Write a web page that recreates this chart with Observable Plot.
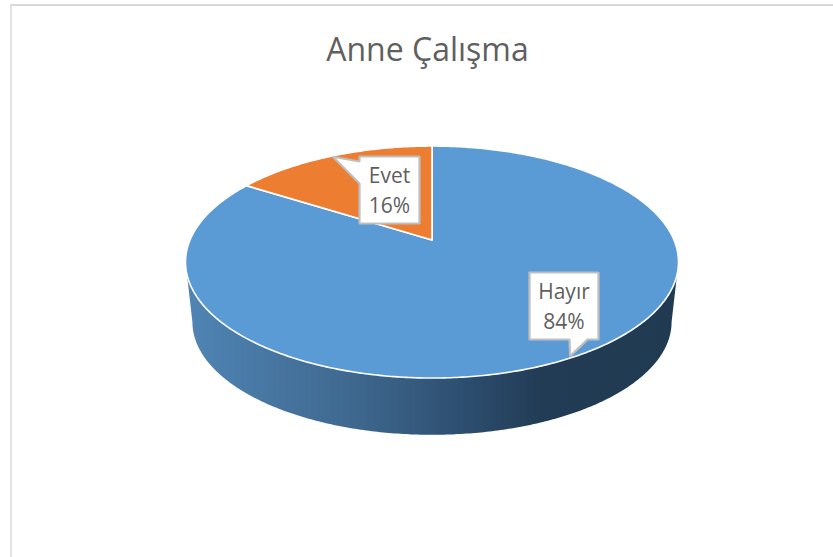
<!DOCTYPE html>
<html>
<head>
<meta charset="utf-8">
<script src="https://cdn.jsdelivr.net/npm/d3@7"></script>
<script src="https://cdn.jsdelivr.net/npm/@observablehq/plot@0.6"></script>
<style>
  html, body { margin: 0; padding: 0; background: #fff; }
  #chart { position: relative; width: 833px; height: 557px; overflow: hidden; }
  #rule { position: absolute; left: 10px; top: 4px; right: 0; bottom: 0;
          border-top: 2px solid #d9d9d9; border-left: 2px solid #e3e3e3; }
  #title { position: absolute; left: 0; width: 855px; top: 27px; text-align: center;
           font: 32px "Open Sans", sans-serif; color: #5f5f5f; }
  #chart svg { position: absolute; left: 0; top: 0; }
</style>
</head>
<body>
<div id="chart">
  <div id="rule"></div>
  <div id="title">Anne Çalışma</div>
</div>
<script>
// Data
const categories = ["Hayır", "Evet"];
const shares = [84, 16];
const sliceColors = ["#5b9bd5", "#ed7d31"];
const titleText = "Anne Çalışma";

// Layout of the tilted disc
const W = 833, H = 557;
const cx = 431.5, cy = 239.5, kx = 242, ky = 111.8, tilt = 0.19;
const wallShrink = 0.972, wallDrop = 60, ellipseCy = 262;
const tipRadius = 0.99;
const labelBoxes = [
  {x0: 529, x1: 598, y0: 272, y1: 339, base: "bottom", b0: 569, b1: 587},
  {x0: 359, x1: 419, y0: 156, y1: 223, base: "left", b0: 161, b1: 183}
];

// Perspective projection of a point on the unit disc (angle clockwise from 12 o'clock)
const proj = (a, r = 1) => {
  const u = r * Math.sin(a), v = r * Math.cos(a), d = 1 + tilt * v;
  return {x: u / d, y: v / d};
};
const fromPx = (px, py) => ({x: (px - cx) / kx, y: (cy - py) / ky});
const toPx = (p) => ({px: cx + p.x * kx, py: cy - p.y * ky});
const drop = (p) => {
  const {px, py} = toPx(p);
  return fromPx(cx + (px - cx) * wallShrink, ellipseCy + (py - ellipseCy) * wallShrink + wallDrop);
};

const arcs = d3.pie().sort(null).value(d => d)(shares);
const arcPts = (a0, a1) => {
  const n = Math.max(2, Math.ceil(Math.abs(a1 - a0) / 0.01));
  return d3.range(n + 1).map(i => a0 + (a1 - a0) * i / n);
};
const slices = arcs.map(a => [proj(0, 0), ...arcPts(a.startAngle, a.endAngle).map(t => proj(t)), proj(0, 0)]);

// Front wall: visible half of the rim, extruded downward
const edge = Math.acos(-tilt);
const front = arcPts(edge, 2 * Math.PI - edge).map(t => proj(t));
const wall = [...front, ...front.slice().reverse().map(drop), front[0]];

// Callouts: pointer tips sit on the rim at each slice's middle angle
const callouts = arcs.map((a, i) => {
  const b = labelBoxes[i];
  const tip = toPx(proj((a.startAngle + a.endAngle) / 2, tipRadius));
  const pts = [[b.x0, b.y0], [b.x1, b.y0], [b.x1, b.y1]];
  if (b.base === "bottom") pts.push([b.b1, b.y1], [tip.px, tip.py], [b.b0, b.y1], [b.x0, b.y1]);
  else pts.push([b.x0, b.y1], [b.x0, b.b1], [tip.px, tip.py], [b.x0, b.b0]);
  pts.push([b.x0, b.y0]);
  return pts.map(([x, y]) => fromPx(x, y));
});
const labels = arcs.map((a, i) => {
  const b = labelBoxes[i];
  return {...fromPx((b.x0 + b.x1) / 2, (b.y0 + b.y1) / 2 - 1.5),
          text: `${categories[i]}\n${shares[i]}%`};
});

const plot = Plot.plot({
  width: W, height: H,
  margin: 0,
  style: {background: "transparent", overflow: "visible"},
  x: {type: "linear", domain: [(0 - cx) / kx, (W - cx) / kx], range: [0, W], axis: null},
  y: {type: "linear", domain: [(cy - H) / ky, cy / ky], range: [H, 0], axis: null},
  marks: [
    Plot.line(wall, {x: "x", y: "y", fill: "url(#wallGrad)", stroke: "none", curve: "linear"}),
    ...slices.map((s, i) => Plot.line(s, {x: "x", y: "y", fill: sliceColors[i], stroke: "#fff",
      strokeWidth: 1.6, strokeLinejoin: "round", curve: "linear"})),
    ...callouts.map(c => Plot.line(c, {x: "x", y: "y", fill: "#fff", stroke: "#bfbfbf",
      strokeWidth: 2.2, strokeLinejoin: "miter", curve: "linear"})),
    Plot.text(labels, {x: "x", y: "y", text: "text", fill: "#5f5f5f", fontSize: 21,
      fontFamily: "'Open Sans', sans-serif", lineHeight: 1.43, textAnchor: "middle", lineAnchor: "middle"})
  ]
});

// Gradient used by the wall
const ns = "http://www.w3.org/2000/svg";
const defs = document.createElementNS(ns, "defs");
const grad = document.createElementNS(ns, "linearGradient");
grad.setAttribute("id", "wallGrad");
grad.setAttribute("x1", "0"); grad.setAttribute("x2", "1");
grad.setAttribute("y1", "0"); grad.setAttribute("y2", "0");
[[0, "#5085b5"], [0.36, "#3d668c"], [0.6, "#2a4a6a"], [0.72, "#223c55"], [1, "#203a52"]].forEach(([o, c]) => {
  const s = document.createElementNS(ns, "stop");
  s.setAttribute("offset", o); s.setAttribute("stop-color", c);
  grad.appendChild(s);
});
defs.appendChild(grad);
plot.insertBefore(defs, plot.firstChild);
document.getElementById("chart").appendChild(plot);
document.getElementById("title").textContent = titleText;
</script>
</body>
</html>
